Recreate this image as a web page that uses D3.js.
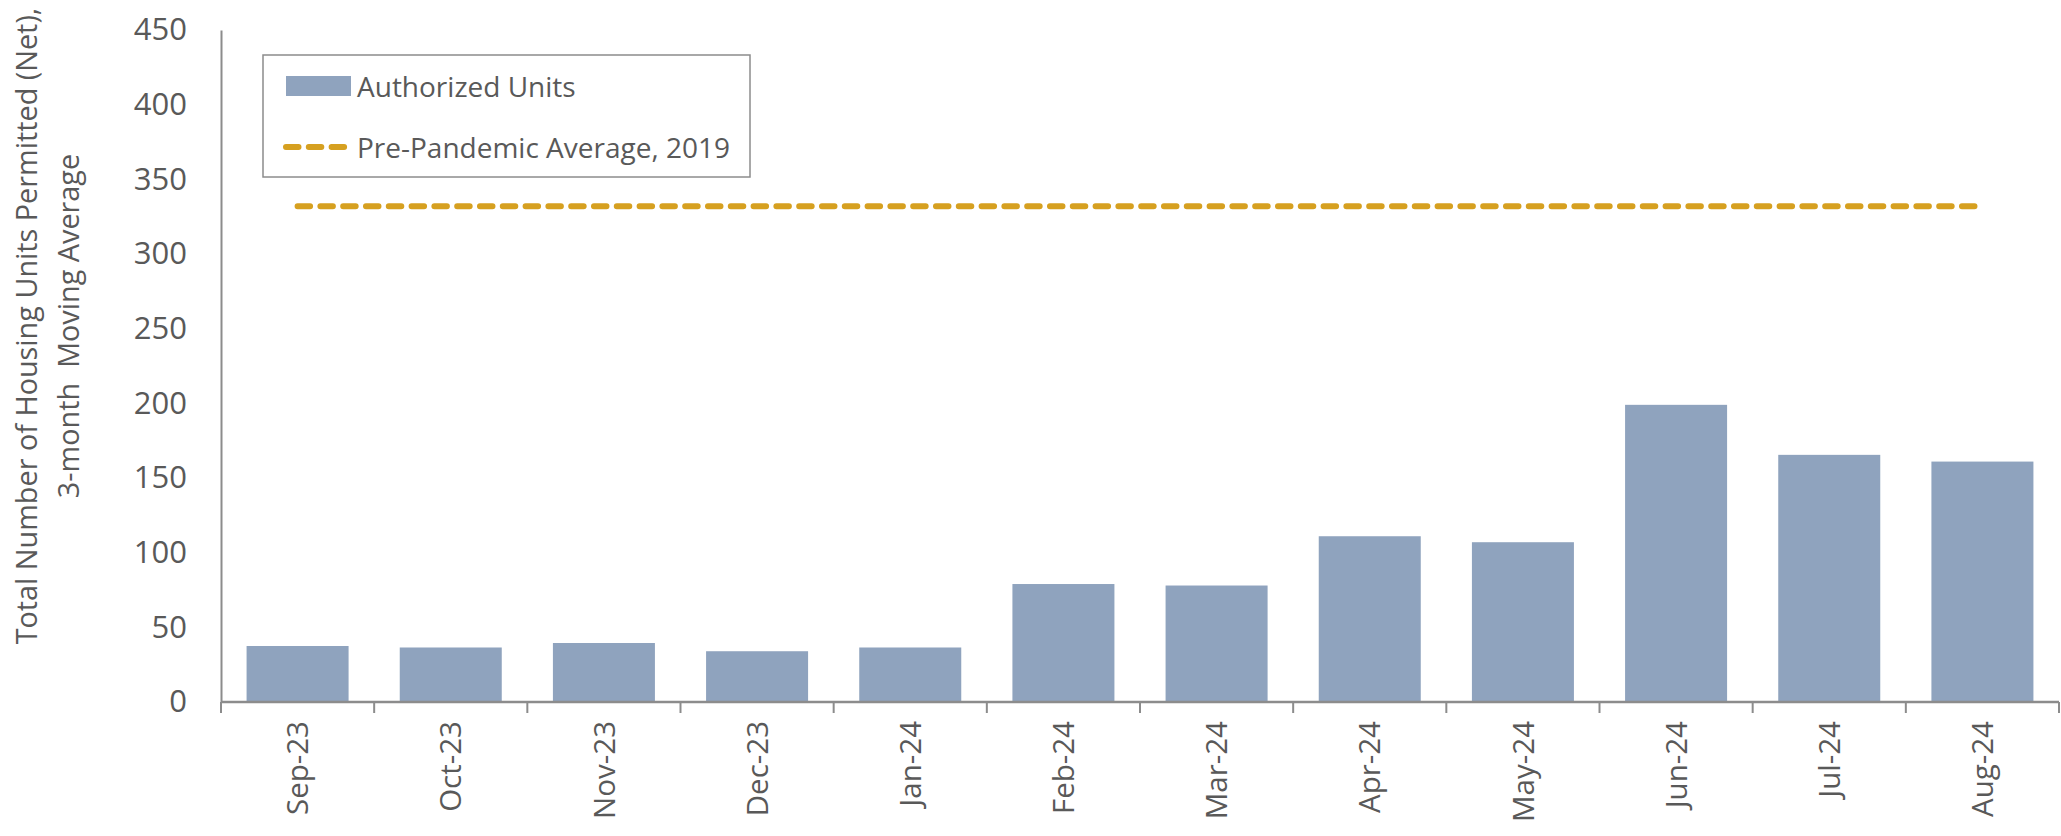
<!DOCTYPE html>
<html>
<head>
<meta charset="utf-8">
<script src="https://cdn.jsdelivr.net/npm/d3@7"></script>
<style>
  body { margin: 0; background: #fff; }
  text { font-family: "Open Sans", "Noto Sans", sans-serif; fill: #595959; }
</style>
</head>
<body>
<svg id="chart"></svg>
<script>
// chart size matches the reference picture
const width = 2061;
const height = 836;

// data
const months = ["Sep-23", "Oct-23", "Nov-23", "Dec-23", "Jan-24", "Feb-24",
  "Mar-24", "Apr-24", "May-24", "Jun-24", "Jul-24", "Aug-24"];
const authorizedUnits = [37.5, 36.5, 39.5, 34, 36.5, 79, 78, 111, 107, 199, 165.5, 161];
const prePandemicAverage = 332;
const yTicks = [0, 50, 100, 150, 200, 250, 300, 350, 400, 450];
const seriesNames = ["Authorized Units", "Pre-Pandemic Average, 2019"];

const barColor = "#8fa3be";
const lineColor = "#d6a020";
const axisColor = "#8c8c8c";

const margin = { top: 30, bottom: 134, left: 221, right: 2 };

const svg = d3.select("#chart").attr("width", width).attr("height", height);

const xScale = d3.scaleBand()
  .domain(months)
  .range([margin.left, width - margin.right])
  .paddingInner(0.334)
  .paddingOuter(0.167);

const yScale = d3.scaleLinear()
  .domain([0, 450])
  .range([height - margin.bottom, margin.top]);

drawBars();
drawAverage();
drawAxis();
drawTitles();
drawLegend();

function translate(x, y) {
  return "translate(" + String(x) + "," + String(y) + ")";
}

function drawBars() {
  let bars = svg.append("g")
    .attr("id", "bars")
    .selectAll("rect")
    .data(months.map((m, i) => ({ month: m, value: authorizedUnits[i] })))
    .enter()
    .append("rect");

  bars.attr("x", d => xScale(d.month));
  bars.attr("width", xScale.bandwidth());
  bars.attr("y", d => yScale(d.value));
  bars.attr("height", d => yScale(0) - yScale(d.value));
  bars.attr("fill", barColor);
}

function drawAverage() {
  let first = months[0];
  let last = months[months.length - 1];

  svg.append("line")
    .attr("x1", xScale(first) + xScale.bandwidth() / 2)
    .attr("x2", xScale(last) + xScale.bandwidth() / 2)
    .attr("y1", yScale(prePandemicAverage))
    .attr("y2", yScale(prePandemicAverage))
    .attr("stroke", lineColor)
    .attr("stroke-width", 6)
    .attr("stroke-linecap", "round")
    .attr("stroke-dasharray", "12.5,10.3");
}

function drawAxis() {
  // y axis: labels only plus the vertical line
  let yAxis = d3.axisLeft(yScale).tickValues(yTicks).tickSize(0).tickPadding(34);
  let yg = svg.append("g")
    .attr("id", "y-axis")
    .attr("transform", translate(margin.left, 0))
    .call(yAxis);
  yg.select("path.domain").attr("stroke", axisColor).attr("stroke-width", 2);
  yg.selectAll("text")
    .attr("font-size", 31)
    .attr("fill", "#595959")
    .style("font-family", "'Open Sans', sans-serif");

  // x axis: line, ticks between the categories, rotated labels
  let base = yScale(0);
  svg.append("line")
    .attr("x1", margin.left)
    .attr("x2", width - margin.right)
    .attr("y1", base)
    .attr("y2", base)
    .attr("stroke", axisColor)
    .attr("stroke-width", 2.5);

  let gap = xScale.step() - xScale.bandwidth();
  let bounds = months.map(m => xScale(m) - gap / 2);
  bounds.push(xScale(months[months.length - 1]) + xScale.bandwidth() + gap / 2);

  svg.append("g")
    .attr("id", "x-ticks")
    .selectAll("line")
    .data(bounds)
    .enter()
    .append("line")
    .attr("x1", d => d)
    .attr("x2", d => d)
    .attr("y1", base)
    .attr("y2", base + 11)
    .attr("stroke", axisColor)
    .attr("stroke-width", 2);

  svg.append("g")
    .attr("id", "x-labels")
    .selectAll("text")
    .data(months)
    .enter()
    .append("text")
    .attr("transform", d => translate(xScale(d) + xScale.bandwidth() / 2, base + 19) + " rotate(-90)")
    .attr("text-anchor", "end")
    .attr("dy", "0.36em")
    .attr("font-size", 29.5)
    .text(d => d);
}

function drawTitles() {
  let yMiddle = 326;

  let lines = ["Total Number of Housing Units Permitted (Net),", "3-month  Moving Average"];
  let baselines = [37, 79];

  svg.append("g")
    .attr("id", "y-title")
    .selectAll("text")
    .data(lines)
    .enter()
    .append("text")
    .attr("transform", (d, i) => translate(baselines[i], yMiddle) + " rotate(-90)")
    .attr("text-anchor", "middle")
    .attr("font-size", 28.8)
    .style("white-space", "pre")
    .text(d => d);
}

function drawLegend() {
  let legend = svg.append("g").attr("id", "legend").attr("transform", translate(263, 55));

  legend.append("rect")
    .attr("x", 0)
    .attr("y", 0)
    .attr("width", 487)
    .attr("height", 122)
    .attr("fill", "#fff")
    .attr("stroke", "#8c8c8c")
    .attr("stroke-width", 1.5);

  legend.append("rect")
    .attr("x", 23)
    .attr("y", 21)
    .attr("width", 65)
    .attr("height", 20)
    .attr("fill", barColor);

  legend.append("line")
    .attr("x1", 23)
    .attr("x2", 82)
    .attr("y1", 92)
    .attr("y2", 92)
    .attr("stroke", lineColor)
    .attr("stroke-width", 6)
    .attr("stroke-linecap", "round")
    .attr("stroke-dasharray", "12.5,10.3");

  legend.selectAll("text.label")
    .data(seriesNames)
    .enter()
    .append("text")
    .attr("class", "label")
    .attr("x", 94)
    .attr("y", (d, i) => 42 + i * 61)
    .attr("font-size", 28)
    .text(d => d);
}
</script>
</body>
</html>
